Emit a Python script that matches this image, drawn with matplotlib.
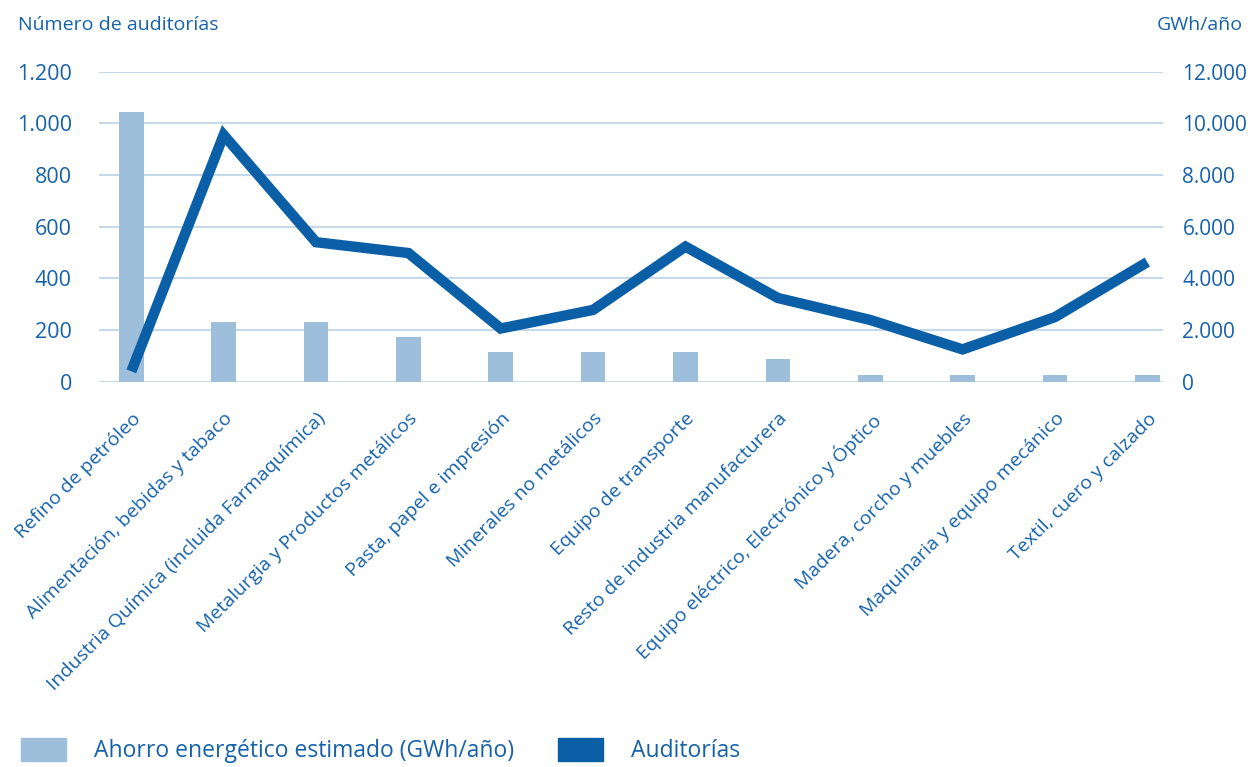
import matplotlib.pyplot as plt
import numpy as np
from matplotlib.patches import Patch
from matplotlib.ticker import FuncFormatter

# Data
sectores = [
    "Refino de petróleo",
    "Alimentación, bebidas y tabaco",
    "Industria Química (incluida Farmaquímica)",
    "Metalurgia y Productos metálicos",
    "Pasta, papel e impresión",
    "Minerales no metálicos",
    "Equipo de transporte",
    "Resto de industria manufacturera",
    "Equipo eléctrico, Electrónico y Óptico",
    "Madera, corcho y muebles",
    "Maquinaria y equipo mecánico",
    "Textil, cuero y calzado",
]
ahorro_gwh = [10450, 2320, 2320, 1720, 1160, 1160, 1160, 880, 270, 270, 270, 270]
auditorias = [40, 955, 540, 498, 206, 278, 523, 324, 239, 125, 250, 463]

left_ticks = [0, 200, 400, 600, 800, 1000, 1200]
right_ticks = [0, 2000, 4000, 6000, 8000, 10000, 12000]

BAR_COLOR = "#9dbfdb"
LINE_COLOR = "#0a5fa6"
TEXT_COLOR = "#1662aa"
GRID_COLOR = "#c6d9ea"

plt.rcParams["font.family"] = ["Open Sans", "DejaVu Sans"]


def miles(v, pos):
    return f"{int(v):,}".replace(",", ".")


fig = plt.figure(figsize=(12.53, 7.67), dpi=100)
ax = fig.add_axes([99 / 1253, 1 - 381.7 / 767, 1064 / 1253, 310 / 767])
ax2 = ax.twinx()

x = np.arange(len(sectores))

# Bars (right axis) behind, line (left axis) on top
ax2.bar(x, ahorro_gwh, width=0.267, color=BAR_COLOR, zorder=2)
ax2.set_ylim(0, 12000)
ax2.set_yticks(right_ticks)
ax2.yaxis.set_major_formatter(FuncFormatter(miles))
ax2.grid(axis="y", color=GRID_COLOR, linewidth=1.5, zorder=0)
ax2.set_axisbelow(True)

ax.plot(x, auditorias, color=LINE_COLOR, linewidth=7.5, solid_joinstyle="miter",
        solid_capstyle="butt")
ax.set_ylim(0, 1200)
ax.set_yticks(left_ticks)
ax.yaxis.set_major_formatter(FuncFormatter(miles))
ax.set_zorder(ax2.get_zorder() + 1)
ax.patch.set_visible(False)

ax.set_xlim(-0.35, 11.17)
ax.set_xticks(x)
ax.set_xticklabels(sectores, rotation=45, ha="right", rotation_mode="anchor",
                   fontsize=14, color=TEXT_COLOR)

for a in (ax, ax2):
    for s in a.spines.values():
        s.set_visible(False)
    a.tick_params(axis="both", length=0)

ax.tick_params(axis="y", labelsize=15.5, labelcolor=TEXT_COLOR, pad=19.5)
ax2.tick_params(axis="y", labelsize=15, labelcolor=TEXT_COLOR, pad=14)
ax.tick_params(axis="x", pad=20)

fig.text(18 / 1253, 1 - 25 / 767, "Número de auditorías", fontsize=14,
         color=TEXT_COLOR, va="center", ha="left")
fig.text(1243 / 1253, 1 - 25 / 767, "GWh/año", fontsize=14,
         color=TEXT_COLOR, va="center", ha="right")

handles = [Patch(color=BAR_COLOR), Patch(color=LINE_COLOR)]
labels = ["Ahorro energético estimado (GWh/año)", "Auditorías"]
fig.legend(handles, labels, loc="lower left", bbox_to_anchor=(0.0, -0.022),
           ncol=2, frameon=False, fontsize=16.5, handlelength=2.0,
           handleheight=1.15, handletextpad=1.2, columnspacing=1.9,
           labelcolor=TEXT_COLOR)

fig.savefig("out.png", dpi=100)
